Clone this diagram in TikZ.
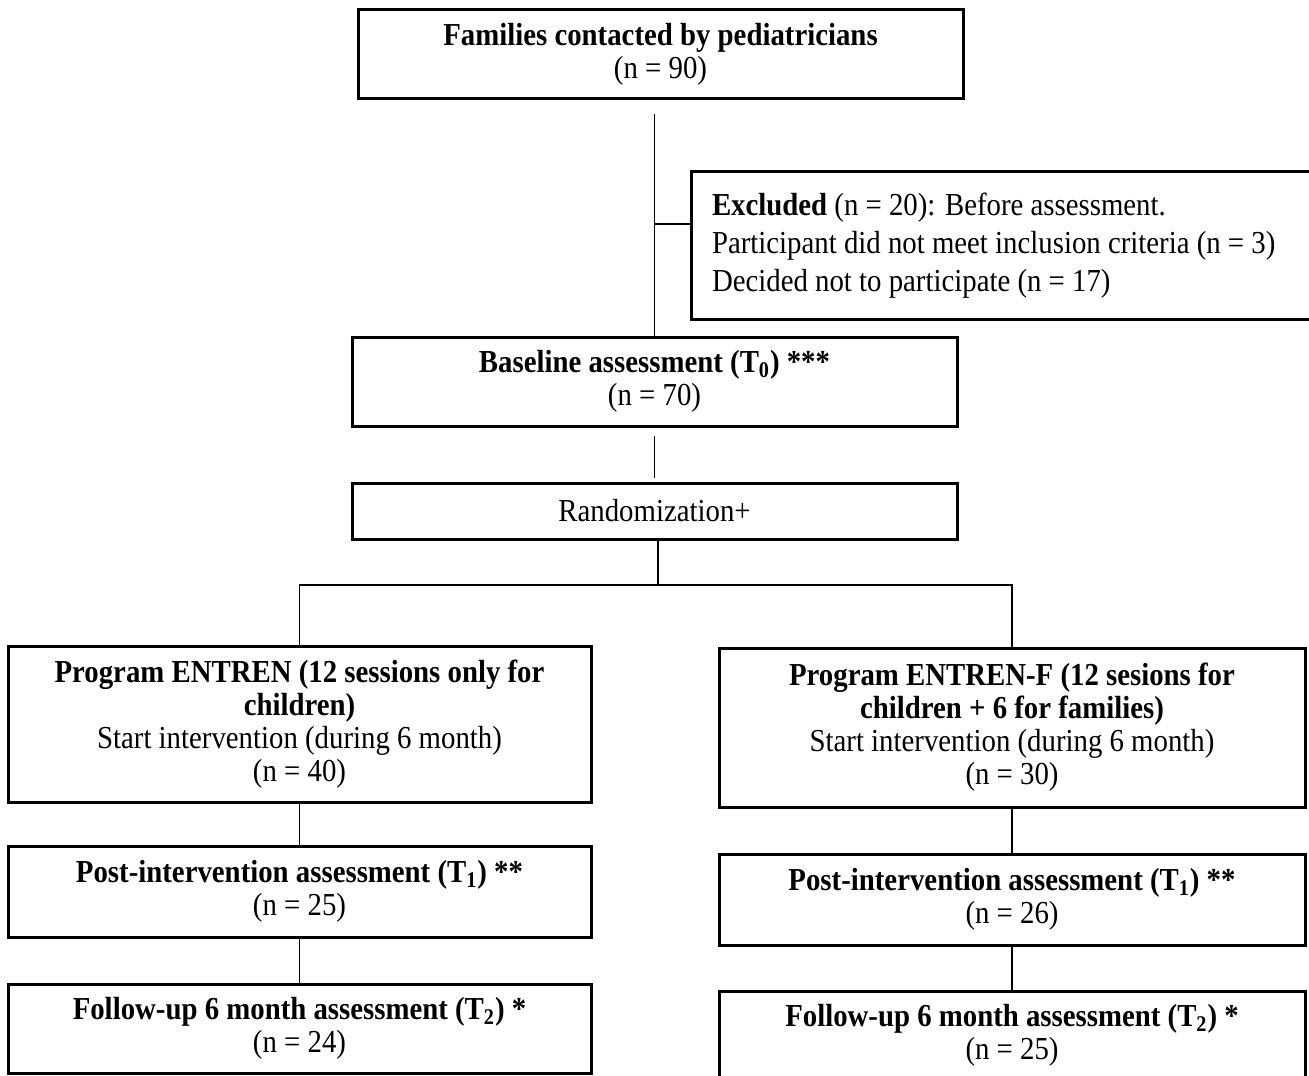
\documentclass[tikz,border=0pt]{standalone}
\usepackage{fontspec}
\setmainfont[FakeStretch=0.9]{Liberation Serif}
\tikzset{
  box/.style={draw=black, line width=1.5pt, inner sep=0pt, align=center,
    font=\fontsize{16}{16.5}\selectfont},
  conn/.style={draw=black, line width=0.6pt},
}
\begin{document}
\begin{tikzpicture}[x=0.5pt,y=-0.5pt]
\useasboundingbox (0,0) rectangle (1309,1075);
\node[box, minimum width=302.5pt, minimum height=44.5pt] (fam) at (660.5,54.5)
  {\textbf{Families contacted by pediatricians}\\(n = 90)};
\node[box, minimum width=321pt, minimum height=73.5pt, text width=300pt, align=flush left,
  font=\fontsize{16}{19}\selectfont] (excl) at (1012,245.5)
  {\textbf{Excluded} (n = 20): Before assessment.\\Participant did not meet inclusion criteria (n = 3)\\Decided not to participate (n = 17)};
\node[box, minimum width=302.5pt, minimum height=44.5pt] (base) at (654.5,381.5)
  {\textbf{Baseline assessment (T\textsubscript{0}) ***}\\(n = 70)};
\node[box, minimum width=302.5pt, minimum height=28pt] (rand) at (654.5,511)
  {Randomization+};
\node[box, minimum width=291.5pt, minimum height=78pt] (entren) at (299.5,724)
  {\textbf{Program ENTREN (12 sessions only for}\\\textbf{children)}\\Start intervention (during 6 month)\\(n = 40)};
\node[box, minimum width=293pt, minimum height=79.5pt] (entrenf) at (1012,727.5)
  {\textbf{Program ENTREN-F (12 sesions for}\\\textbf{children + 6 for families)}\\Start intervention (during 6 month)\\(n = 30)};
\node[box, minimum width=291.5pt, minimum height=45.5pt] (postL) at (299.5,891.5)
  {\textbf{Post-intervention assessment (T\textsubscript{1}) **}\\(n = 25)};
\node[box, minimum width=293pt, minimum height=45.5pt] (postR) at (1012,899.5)
  {\textbf{Post-intervention assessment (T\textsubscript{1}) **}\\(n = 26)};
\node[box, minimum width=291.5pt, minimum height=44.5pt] (folL) at (299.5,1028.5)
  {\textbf{Follow-up 6 month assessment (T\textsubscript{2}) *}\\(n = 24)};
\node[box, minimum width=293pt, minimum height=44.5pt] (folR) at (1012,1035.5)
  {\textbf{Follow-up 6 month assessment (T\textsubscript{2}) *}\\(n = 25)};
% connectors
\draw[conn] ([yshift=-7pt]base.north |- fam.south) -- (base.north);
\coordinate (bx) at (655,224);
\draw[conn] (bx) -- (bx -| excl.west);
\draw[conn, shorten <=2pt, shorten >=4pt] (rand.north) -- (base.south);
\coordinate (split) at (658,585);
\draw[conn] (split |- rand.south) -- (split);
\draw[conn] (entren.north) |- (split) -| (entrenf.north);
\draw[conn] (entren.south) -- (postL.north);
\draw[conn] (postL.south) -- (folL.north);
\draw[conn] (entrenf.south) -- (postR.north);
\draw[conn] (postR.south) -- (folR.north);
\end{tikzpicture}
\end{document}
